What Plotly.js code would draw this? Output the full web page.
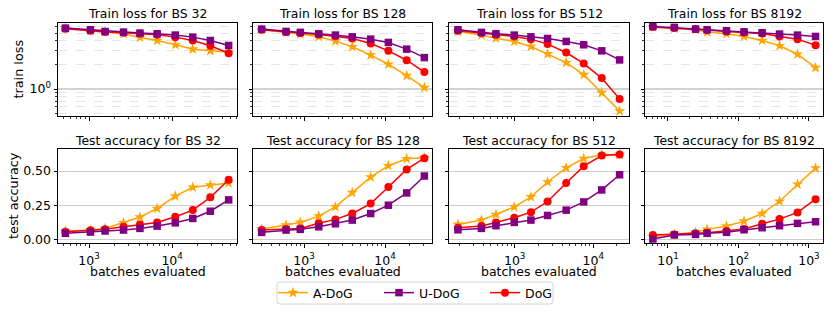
<!DOCTYPE html>
<html><head><meta charset="utf-8">
<script src="https://cdn.plot.ly/plotly-3.0.1.min.js"></script>
<style>html,body{margin:0;padding:0;background:#fff}#chart{width:831px;height:311px}</style>
</head><body><div id="chart"></div>
<script>
// ---- data ----
const batchSizes = ['32', '128', '512', '8192'];
const methods = ['A-DoG', 'U-DoG', 'DoG'];

const steps32   = [520, 1040, 1560, 2600, 4100, 6600, 10900, 17700, 28800, 47800];
const steps128  = [300, 600, 900, 1520, 2440, 3940, 6650, 11000, 18500, 30600];
const steps512  = [190, 378, 578, 988, 1610, 2620, 4520, 7550, 12800, 21600];
const steps8192 = [6.1, 12.3, 24.6, 35.9, 67.7, 120, 217, 383, 689, 1242];

const lossADoG32   = [5.77, 5.35, 5.19, 4.90, 4.41, 4.04, 3.57, 3.15, 3.00, 2.90];
const lossUDoG32   = [5.77, 5.50, 5.24, 5.14, 5.00, 4.90, 4.72, 4.45, 4.04, 3.50];
const lossDoG32    = [5.66, 5.35, 5.14, 5.05, 4.90, 4.76, 4.45, 4.04, 3.47, 2.80];

const lossADoG128  = [5.50, 5.10, 4.86, 4.49, 3.97, 3.37, 2.65, 2.04, 1.47, 1.04];
const lossUDoG128  = [5.61, 5.24, 5.10, 4.90, 4.72, 4.49, 4.20, 3.82, 3.15, 2.47];
const lossDoG128   = [5.50, 5.14, 5.00, 4.81, 4.58, 4.28, 3.71, 3.00, 2.29, 1.63];

const lossADoG512  = [5.24, 4.72, 4.32, 3.93, 3.40, 2.75, 2.14, 1.51, 0.90, 0.53];
const lossUDoG512  = [5.50, 5.10, 4.90, 4.72, 4.49, 4.28, 3.93, 3.57, 3.00, 2.31];
const lossDoG512   = [5.35, 5.00, 4.76, 4.54, 4.20, 3.64, 2.86, 2.08, 1.37, 0.75];

const lossADoG8192 = [5.94, 5.72, 5.50, 5.14, 4.90, 4.54, 4.04, 3.47, 2.72, 1.85];
const lossUDoG8192 = [6.06, 5.89, 5.61, 5.50, 5.35, 5.19, 5.05, 4.86, 4.72, 4.54];
const lossDoG8192  = [5.94, 5.77, 5.61, 5.45, 5.24, 5.10, 4.95, 4.54, 4.20, 3.53];

const accADoG32   = [0.061, 0.066, 0.080, 0.121, 0.163, 0.226, 0.316, 0.381, 0.398, 0.413];
const accUDoG32   = [0.044, 0.053, 0.061, 0.068, 0.080, 0.097, 0.121, 0.153, 0.206, 0.289];
const accDoG32    = [0.056, 0.066, 0.073, 0.092, 0.109, 0.124, 0.165, 0.214, 0.308, 0.437];

const accADoG128  = [0.075, 0.104, 0.124, 0.170, 0.238, 0.342, 0.456, 0.539, 0.590, 0.597];
const accUDoG128  = [0.051, 0.068, 0.073, 0.092, 0.114, 0.141, 0.189, 0.250, 0.340, 0.464];
const accDoG128   = [0.068, 0.075, 0.080, 0.117, 0.146, 0.189, 0.262, 0.383, 0.512, 0.595];

const accADoG512  = [0.109, 0.141, 0.182, 0.238, 0.311, 0.420, 0.524, 0.592, 0.619, 0.621];
const accUDoG512  = [0.070, 0.080, 0.100, 0.124, 0.141, 0.175, 0.214, 0.274, 0.362, 0.473];
const accDoG512   = [0.085, 0.097, 0.124, 0.158, 0.199, 0.277, 0.413, 0.536, 0.614, 0.621];

const accADoG8192 = [0.019, 0.036, 0.051, 0.073, 0.097, 0.133, 0.189, 0.279, 0.403, 0.522];
const accUDoG8192 = [0.002, 0.032, 0.036, 0.044, 0.051, 0.070, 0.085, 0.100, 0.117, 0.129];
const accDoG8192  = [0.032, 0.036, 0.044, 0.049, 0.061, 0.075, 0.114, 0.148, 0.197, 0.294];

const lossTickVals = [1];
const lossTickText = ['10<sup>0</sup>'];
const accTickVals = [0, 0.25, 0.5];
const accTickText = ['0.00', '0.25', '0.50'];

// ---- assembly ----
const steps = [steps32, steps128, steps512, steps8192];
const loss = {
  'A-DoG': [lossADoG32, lossADoG128, lossADoG512, lossADoG8192],
  'U-DoG': [lossUDoG32, lossUDoG128, lossUDoG512, lossUDoG8192],
  'DoG':   [lossDoG32, lossDoG128, lossDoG512, lossDoG8192]
};
const acc = {
  'A-DoG': [accADoG32, accADoG128, accADoG512, accADoG8192],
  'U-DoG': [accUDoG32, accUDoG128, accUDoG512, accUDoG8192],
  'DoG':   [accDoG32, accDoG128, accDoG512, accDoG8192]
};
const style = {
  'A-DoG': {color: '#FFA500', symbol: 'star', size: 8.5, rank: 1},
  'U-DoG': {color: '#800080', symbol: 'square', size: 7.5, rank: 2},
  'DoG':   {color: '#FF0000', symbol: 'circle', size: 8, rank: 3}
};
const drawOrder = ['A-DoG', 'DoG', 'U-DoG'];

const W = 831, H = 311;
const colPx = [[58, 237], [253, 432], [449, 629], [645, 823]];
const topPx = [23, 116], botPx = [149, 243];
const xRanges = [[2.627, 4.78], [2.37, 4.58], [2.165, 4.454], [0.674, 3.2]];
const lossRange = [Math.log10(0.46), 0.825];
const accRange = [-0.027, 0.662];

const FONT = 'DejaVu Sans, Liberation Sans, sans-serif';
const traces = [];
drawOrder.forEach(m => {
  for (let c = 0; c < 4; c++) {
    const s = style[m];
    const common = {
      type: 'scatter', mode: 'lines+markers', name: m, legendgroup: m, legendrank: s.rank,
      line: {color: s.color, width: 1.5},
      marker: {color: s.color, symbol: s.symbol, size: s.size}
    };
    traces.push(Object.assign({}, common, {
      x: steps[c], y: loss[m][c], xaxis: 'x' + (c + 1), yaxis: 'y' + (c + 1), showlegend: c === 0
    }));
    traces.push(Object.assign({}, common, {
      x: steps[c], y: acc[m][c], xaxis: 'x' + (c + 5), yaxis: 'y' + (c + 5), showlegend: false
    }));
  }
});

function decadeTicks(r) {
  const major = [], minor = [];
  for (let k = Math.floor(r[0]) - 1; k <= Math.ceil(r[1]) + 1; k++) {
    const v = Math.pow(10, k);
    if (k >= r[0] && k <= r[1]) major.push(v);
    for (let d = 2; d <= 9; d++) {
      const lv = Math.log10(d * v);
      if (lv >= r[0] && lv <= r[1]) minor.push(d * v);
    }
  }
  return {major, minor};
}

// legend frame (matplotlib-style rounded box)
const lx0 = 277, lx1 = 553, ly0 = 282, ly1 = 304, rr = 3;
function px(x) { return x / W; }
function py(y) { return (H - y) / H; }

const layout = {
  width: W, height: H,
  margin: {l: 0, r: 0, t: 0, b: 0},
  paper_bgcolor: '#fff', plot_bgcolor: '#fff',
  font: {family: FONT, size: 12.5, color: '#000'},
  showlegend: true,
  legend: {
    orientation: 'h', x: 273 / W, xanchor: 'left', y: (H - 293) / H, yanchor: 'middle',
    font: {family: FONT, size: 12.5, color: '#000'},
    borderwidth: 0, bgcolor: 'rgba(0,0,0,0)', traceorder: 'normal',
    entrywidth: 61, itemwidth: 30
  },
  shapes: [{
    type: 'path', xref: 'paper', yref: 'paper', layer: 'below',
    path: 'M ' + px(lx0 + rr) + ' ' + py(ly0) +
          ' L ' + px(lx1 - rr) + ' ' + py(ly0) +
          ' Q ' + px(lx1) + ' ' + py(ly0) + ' ' + px(lx1) + ' ' + py(ly0 + rr) +
          ' L ' + px(lx1) + ' ' + py(ly1 - rr) +
          ' Q ' + px(lx1) + ' ' + py(ly1) + ' ' + px(lx1 - rr) + ' ' + py(ly1) +
          ' L ' + px(lx0 + rr) + ' ' + py(ly1) +
          ' Q ' + px(lx0) + ' ' + py(ly1) + ' ' + px(lx0) + ' ' + py(ly1 - rr) +
          ' L ' + px(lx0) + ' ' + py(ly0 + rr) +
          ' Q ' + px(lx0) + ' ' + py(ly0) + ' ' + px(lx0 + rr) + ' ' + py(ly0) + ' Z',
    line: {color: '#d4d4d4', width: 1}, fillcolor: '#ffffff'
  }],
  annotations: []
};

const axBase = {
  showline: true, mirror: true, linecolor: '#000', linewidth: 1,
  ticks: 'outside', ticklen: 3.5, tickwidth: 1, tickcolor: '#000',
  zeroline: false, tickfont: {family: FONT, size: 12.5, color: '#000'}
};

for (let c = 0; c < 4; c++) {
  const dom = [colPx[c][0] / W, colPx[c][1] / W];
  const t = decadeTicks(xRanges[c]);
  const minorX = {tickmode: 'array', tickvals: t.minor, ticks: 'outside', ticklen: 2, tickwidth: 0.8, tickcolor: '#000', showgrid: false};
  const xt = t.major.map(v => '10<sup>' + Math.round(Math.log10(v)) + '</sup>');
  layout['xaxis' + (c + 1)] = Object.assign({}, axBase, {
    domain: dom, anchor: 'y' + (c + 1), type: 'log', range: xRanges[c],
    tickmode: 'array', tickvals: t.major, ticktext: xt, showticklabels: false,
    showgrid: false, minor: minorX
  });
  layout['xaxis' + (c + 5)] = Object.assign({}, axBase, {
    domain: dom, anchor: 'y' + (c + 5), type: 'log', range: xRanges[c],
    tickmode: 'array', tickvals: t.major, ticktext: xt, showticklabels: true,
    ticklabelstandoff: 2,
    showgrid: false, minor: minorX
  });
  layout['yaxis' + (c + 1)] = Object.assign({}, axBase, {
    domain: [(H - topPx[1]) / H, (H - topPx[0]) / H], anchor: 'x' + (c + 1), type: 'log', range: lossRange,
    tickmode: 'array', tickvals: lossTickVals, ticktext: lossTickText, showticklabels: c === 0,
    showgrid: true, gridcolor: '#d2d2d2', gridwidth: 1.5,
    minor: {tickmode: 'array', tickvals: [0.5, 0.6, 0.7, 0.8, 0.9, 2, 3, 4, 5, 6], ticks: 'outside', ticklen: 2,
            tickwidth: 0.8, tickcolor: '#000', showgrid: true, griddash: 'dash', gridcolor: '#e6e6e6', gridwidth: 1}
  });
  layout['yaxis' + (c + 5)] = Object.assign({}, axBase, {
    domain: [(H - botPx[1]) / H, (H - botPx[0]) / H], anchor: 'x' + (c + 5), range: accRange,
    tickmode: 'array', tickvals: accTickVals, ticktext: accTickText, showticklabels: c === 0,
    showgrid: true, gridcolor: '#cccccc', gridwidth: 1
  });
  const cx = (colPx[c][0] + colPx[c][1]) / 2 / W;
  layout.annotations.push({
    text: 'Train loss for BS ' + batchSizes[c], xref: 'paper', yref: 'paper', x: cx, y: (H - 13) / H,
    xanchor: 'center', yanchor: 'middle', showarrow: false, font: {family: FONT, size: 12.4, color: '#000'}
  });
  layout.annotations.push({
    text: 'Test accuracy for BS ' + batchSizes[c], xref: 'paper', yref: 'paper', x: cx, y: (H - 140) / H,
    xanchor: 'center', yanchor: 'middle', showarrow: false, font: {family: FONT, size: 12.4, color: '#000'}
  });
  layout.annotations.push({
    text: 'batches evaluated', xref: 'paper', yref: 'paper', x: cx, y: (H - 271.5) / H,
    xanchor: 'center', yanchor: 'middle', showarrow: false, font: {family: FONT, size: 12.5, color: '#000'}
  });
}
layout.annotations.push({
  text: 'train loss', xref: 'paper', yref: 'paper', x: 18 / W, y: (H - 69.5) / H, textangle: -90,
  xanchor: 'center', yanchor: 'middle', showarrow: false, font: {family: FONT, size: 12.8, color: '#000'}
});
layout.annotations.push({
  text: 'test accuracy', xref: 'paper', yref: 'paper', x: 14 / W, y: (H - 196) / H, textangle: -90,
  xanchor: 'center', yanchor: 'middle', showarrow: false, font: {family: FONT, size: 12.8, color: '#000'}
});

Plotly.newPlot('chart', traces, layout, {staticPlot: true, displayModeBar: false});
</script>
</body></html>
